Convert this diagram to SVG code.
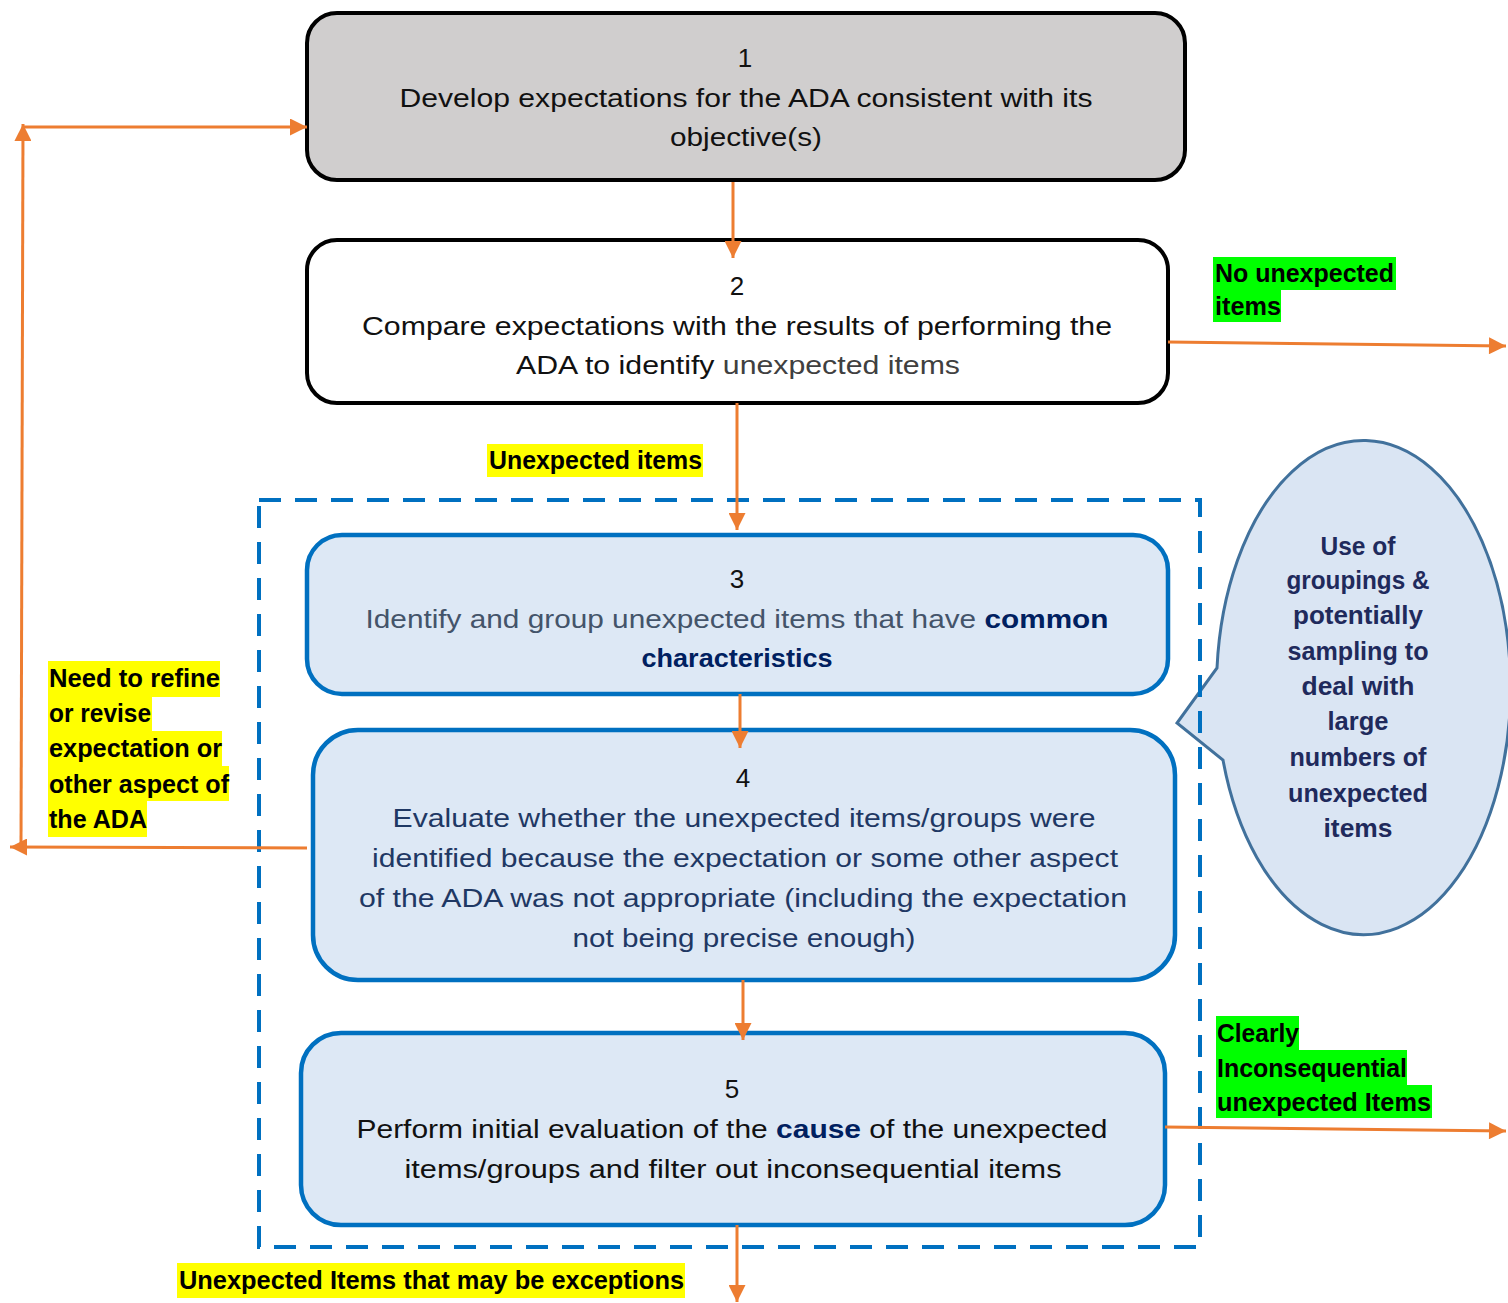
<svg xmlns="http://www.w3.org/2000/svg" width="1508" height="1303" viewBox="0 0 1508 1303">
<defs>
<marker id="ah" viewBox="0 0 10 10" refX="10" refY="5" markerWidth="20" markerHeight="17" markerUnits="userSpaceOnUse" orient="auto">
<path d="M0,0 L10,5 L0,10 z" fill="#ed7d31"/>
</marker>
<style>
text{font-family:"Liberation Sans",Arial,sans-serif;}
.bt{font-size:26px;text-anchor:middle;fill:#111;}
.b3{fill:#44546a;}
.b4{fill:#1f3864;}
.nv{font-weight:bold;fill:#002060;}
.lb{font-size:25px;font-weight:bold;fill:#000;}
.bub{font-size:25px;font-weight:bold;fill:#1f2a5c;text-anchor:middle;}
.y{fill:#ffff00;}
.g{fill:#00ff00;}
.con{stroke:#ed7d31;stroke-width:3;fill:none;marker-end:url(#ah);}
.blue{fill:#dde8f5;stroke:#0070c0;stroke-width:4.5;}
</style>
</defs>

<g id="bubble">
<path d="M1217,668 A147,247 0 1 1 1223,760 L1177,723 Z" fill="#dae5f3" stroke="#41719c" stroke-width="3"/>
<text class="bub" x="1358" y="555" textLength="75" lengthAdjust="spacingAndGlyphs">Use of</text>
<text class="bub" x="1358" y="589" textLength="143" lengthAdjust="spacingAndGlyphs">groupings &amp;</text>
<text class="bub" x="1358" y="624" textLength="130" lengthAdjust="spacingAndGlyphs">potentially</text>
<text class="bub" x="1358" y="660" textLength="141" lengthAdjust="spacingAndGlyphs">sampling to</text>
<text class="bub" x="1358" y="695" textLength="113" lengthAdjust="spacingAndGlyphs">deal with</text>
<text class="bub" x="1358" y="730" textLength="61" lengthAdjust="spacingAndGlyphs">large</text>
<text class="bub" x="1358" y="766" textLength="137" lengthAdjust="spacingAndGlyphs">numbers of</text>
<text class="bub" x="1358" y="802" textLength="140" lengthAdjust="spacingAndGlyphs">unexpected</text>
<text class="bub" x="1358" y="837" textLength="69" lengthAdjust="spacingAndGlyphs">items</text>
</g>

<g id="group-frame">
<rect x="259" y="500" width="941" height="747" fill="none" stroke="#0070c0" stroke-width="4" stroke-dasharray="22 14"/>
</g>

<g id="node1">
<rect x="307" y="13" width="878" height="167" rx="30" fill="#d0cece" stroke="#000" stroke-width="4"/>
<text class="bt" x="745" y="67">1</text>
<text class="bt" x="746" y="107" textLength="693" lengthAdjust="spacingAndGlyphs">Develop expectations for the ADA consistent with its</text>
<text class="bt" x="746" y="146" textLength="152" lengthAdjust="spacingAndGlyphs">objective(s)</text>
</g>

<g id="node2">
<rect x="307" y="240" width="861" height="163" rx="30" fill="#fff" stroke="#000" stroke-width="4"/>
<text class="bt" x="737" y="295">2</text>
<text class="bt" x="737" y="335" textLength="750" lengthAdjust="spacingAndGlyphs">Compare expectations with the results of performing the</text>
<text class="bt" x="738" y="374" textLength="444" lengthAdjust="spacingAndGlyphs">ADA to identify <tspan fill="#404040">unexpected items</tspan></text>
</g>

<g id="node3">
<rect class="blue" x="307" y="535" width="861" height="159" rx="35"/>
<text class="bt" x="737" y="588">3</text>
<text class="bt b3" x="737" y="628" textLength="743" lengthAdjust="spacingAndGlyphs">Identify and group unexpected items that have <tspan class="nv">common</tspan></text>
<text class="bt nv" x="737" y="667" textLength="191" lengthAdjust="spacingAndGlyphs">characteristics</text>
</g>

<g id="node4">
<rect class="blue" x="313" y="730" width="862" height="250" rx="45"/>
<text class="bt" x="743" y="787">4</text>
<text class="bt b4" x="744" y="827" textLength="703" lengthAdjust="spacingAndGlyphs">Evaluate whether the unexpected items/groups were</text>
<text class="bt b4" x="745" y="867" textLength="746" lengthAdjust="spacingAndGlyphs">identified because the expectation or some other aspect</text>
<text class="bt b4" x="743" y="907" textLength="768" lengthAdjust="spacingAndGlyphs">of the ADA was not appropriate (including the expectation</text>
<text class="bt b4" x="744" y="947" textLength="343" lengthAdjust="spacingAndGlyphs">not being precise enough)</text>
</g>

<g id="node5">
<rect class="blue" x="301" y="1033" width="864" height="192" rx="40"/>
<text class="bt" x="732" y="1098">5</text>
<text class="bt" x="732" y="1138" textLength="751" lengthAdjust="spacingAndGlyphs">Perform initial evaluation of the <tspan class="nv">cause</tspan> of the unexpected</text>
<text class="bt" x="733" y="1178" textLength="657" lengthAdjust="spacingAndGlyphs">items/groups and filter out inconsequential items</text>
</g>

<g id="connectors">
<path class="con" d="M733,182 L733,258"/>
<path class="con" d="M737,403 L737,530"/>
<path class="con" d="M740,694 L740,748"/>
<path class="con" d="M743,980 L743,1040"/>
<path class="con" d="M737,1225 L737,1302"/>
<path class="con" d="M1168,342 L1506,346"/>
<path class="con" d="M1165,1127 L1506,1131"/>
<path class="con" d="M307,848 L10,847"/>
<path class="con" d="M21,847 L23,124"/>
<path class="con" d="M23,127 L307,127"/>
</g>

<g id="label-no-unexpected">
<rect class="g" x="1213" y="257" width="183" height="33"/>
<rect class="g" x="1213" y="290" width="68" height="32"/>
<text class="lb" x="1215" y="282" textLength="179" lengthAdjust="spacingAndGlyphs">No unexpected</text>
<text class="lb" x="1215" y="315" textLength="66" lengthAdjust="spacingAndGlyphs">items</text>
</g>

<g id="label-unexpected">
<rect class="y" x="487" y="444" width="216" height="33"/>
<text class="lb" x="489" y="469" textLength="213" lengthAdjust="spacingAndGlyphs">Unexpected items</text>
</g>

<g id="label-refine">
<rect class="y" x="48" y="661" width="172" height="36"/>
<rect class="y" x="48" y="697" width="104" height="34"/>
<rect class="y" x="48" y="731" width="174" height="35"/>
<rect class="y" x="48" y="766" width="181" height="35"/>
<rect class="y" x="48" y="801" width="99" height="36"/>
<text class="lb" x="49" y="687" textLength="171" lengthAdjust="spacingAndGlyphs">Need to refine</text>
<text class="lb" x="49" y="722" textLength="102" lengthAdjust="spacingAndGlyphs">or revise</text>
<text class="lb" x="49" y="757" textLength="173" lengthAdjust="spacingAndGlyphs">expectation or</text>
<text class="lb" x="49" y="793" textLength="180" lengthAdjust="spacingAndGlyphs">other aspect of</text>
<text class="lb" x="49" y="828" textLength="98" lengthAdjust="spacingAndGlyphs">the ADA</text>
</g>

<g id="label-inconsequential">
<rect class="g" x="1216" y="1016" width="83" height="34"/>
<rect class="g" x="1216" y="1050" width="191" height="35"/>
<rect class="g" x="1216" y="1085" width="216" height="33"/>
<text class="lb" x="1217" y="1042" textLength="82" lengthAdjust="spacingAndGlyphs">Clearly</text>
<text class="lb" x="1217" y="1077" textLength="190" lengthAdjust="spacingAndGlyphs">Inconsequential</text>
<text class="lb" x="1217" y="1111" textLength="214" lengthAdjust="spacingAndGlyphs">unexpected Items</text>
</g>

<g id="label-exceptions">
<rect class="y" x="177" y="1263" width="508" height="35"/>
<text class="lb" x="179" y="1289" textLength="505" lengthAdjust="spacingAndGlyphs">Unexpected Items that may be exceptions</text>
</g>
</svg>
